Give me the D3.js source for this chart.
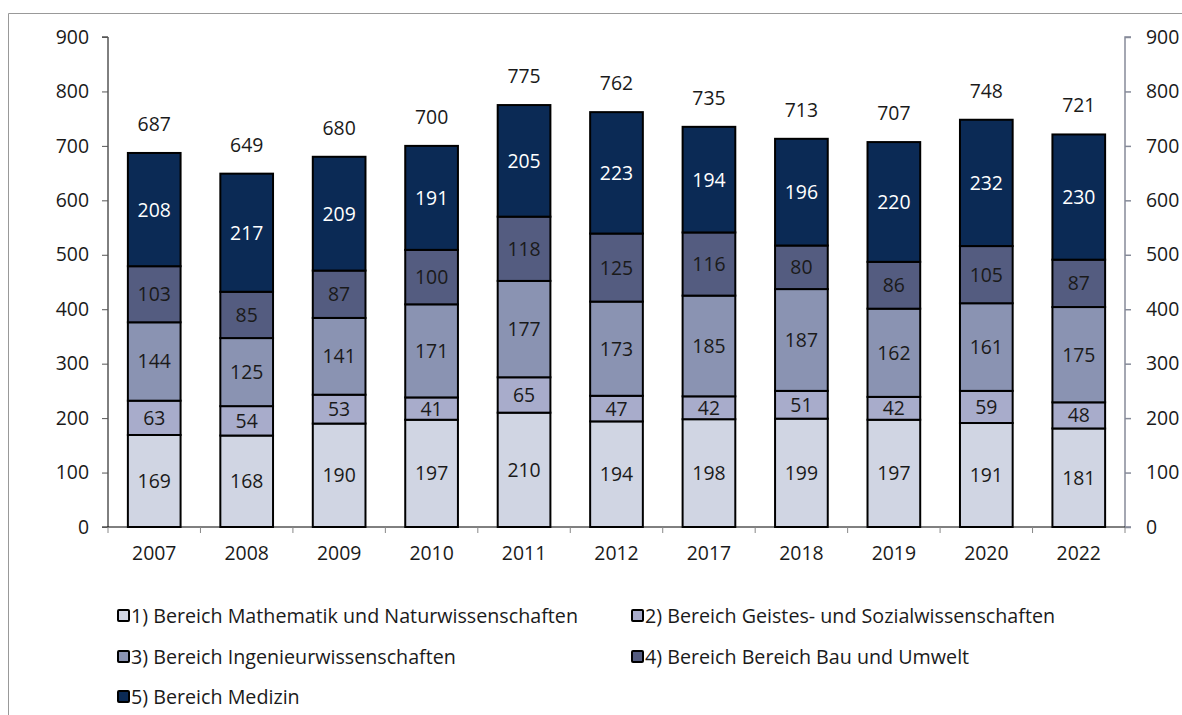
<!DOCTYPE html>
<html><head><meta charset="utf-8">
<script src="https://cdn.jsdelivr.net/npm/d3@7"></script>
<style>body{margin:0;background:#fff;font-family:"Open Sans",sans-serif;}</style>
</head><body>
<svg id="c" width="1182" height="715"></svg>
<script>
const categories = ["2007","2008","2009","2010","2011","2012","2017","2018","2019","2020","2022"];
const seriesNames = ["1) Bereich Mathematik und Naturwissenschaften","2) Bereich Geistes- und Sozialwissenschaften","3) Bereich Ingenieurwissenschaften","4) Bereich Bereich Bau und Umwelt","5) Bereich Medizin"];
const s1 = [169,168,190,197,210,194,198,199,197,191,181];
const s2 = [63,54,53,41,65,47,42,51,42,59,48];
const s3 = [144,125,141,171,177,173,185,187,162,161,175];
const s4 = [103,85,87,100,118,125,116,80,86,105,87];
const s5 = [208,217,209,191,205,223,194,196,220,232,230];
const totals = [687,649,680,700,775,762,735,713,707,748,721];
const yTicks = [0,100,200,300,400,500,600,700,800,900];
const colors = ["#d0d5e3","#a8accb","#8a93b2","#545c80","#0b2a55"];
const textColors = ["#1a1a1a","#1a1a1a","#1a1a1a","#1a1a1a","#ffffff"];

const FS = 19.4, LFS = 19.7;
const series = [s1,s2,s3,s4,s5];
const svg = d3.select("#c");
const L = 108, R = 1125, T = 37, B = 527;
const x = d3.scaleBand().domain(categories).range([L,R]).paddingInner(0.43).paddingOuter(0.215);
const xb = d3.scaleBand().domain(categories).range([L,R]);
const y = d3.scaleLinear().domain([0,900]).range([B,T]);

svg.append("line").attr("x1",8.5).attr("x2",1182).attr("y1",13.5).attr("y2",13.5).attr("stroke","#999").attr("stroke-width",1);
svg.append("line").attr("x1",8.5).attr("x2",8.5).attr("y1",13.5).attr("y2",715).attr("stroke","#999").attr("stroke-width",1);

const data = categories.map((c,i)=>{const o={cat:c}; series.forEach((s,k)=>o["s"+k]=s[i]); return o;});
const stack = d3.stack().keys(series.map((s,k)=>"s"+k))(data);

stack.forEach((layer,k)=>{
  svg.append("g").selectAll("rect").data(layer).join("rect")
    .attr("x",d=>x(d.data.cat)).attr("width",x.bandwidth())
    .attr("y",d=>y(d[1])).attr("height",d=>y(d[0])-y(d[1]))
    .attr("fill",colors[k]).attr("stroke","#000").attr("stroke-width",2);
});
stack.forEach((layer,k)=>{
  svg.append("g").selectAll("text").data(layer).join("text")
    .attr("x",d=>x(d.data.cat)+x.bandwidth()/2)
    .attr("y",d=>(y(d[0])+y(d[1]))/2)
    .attr("dy","0.36em").attr("text-anchor","middle")
    .attr("font-size",FS).attr("fill",textColors[k])
    .text(d=>d.data["s"+k]);
});
svg.append("g").selectAll("text").data(categories).join("text")
  .attr("x",c=>x(c)+x.bandwidth()/2)
  .attr("y",(c,i)=>y(totals[i])-29)
  .attr("dy","0.36em").attr("text-anchor","middle")
  .attr("font-size",FS).attr("fill","#1a1a1a")
  .text((c,i)=>totals[i]);

const ly = svg.append("g").attr("transform",`translate(${L},0)`)
  .call(d3.axisLeft(y).tickValues(yTicks).tickSize(6).tickPadding(13));
ly.select(".domain").attr("stroke","#000").attr("d",`M-6,${B}H0V${T}H-6`);
ly.selectAll(".tick line").attr("stroke","#555");
ly.selectAll("text").attr("font-size",FS).attr("font-family","Open Sans").attr("fill","#1a1a1a");

const ry = svg.append("g").attr("transform",`translate(${R},0)`)
  .call(d3.axisRight(y).tickValues(yTicks).tickSize(6).tickPadding(15));
ry.select(".domain").attr("stroke","#868b99").attr("stroke-width",1.5).attr("d",`M6,${T}H0V${B}H6`);
ry.selectAll(".tick line").attr("stroke","#868b99").attr("stroke-width",1.5);
ry.selectAll("text").attr("font-size",FS).attr("font-family","Open Sans").attr("fill","#1a1a1a");

const xa = svg.append("g").attr("transform",`translate(0,${B})`)
  .call(d3.axisBottom(xb).tickSize(0).tickPadding(19));
xa.select(".domain").attr("stroke","#000").attr("d",`M${L},0H${R}`);
xa.selectAll("text").attr("font-size",FS).attr("font-family","Open Sans").attr("fill","#1a1a1a");
svg.append("g").selectAll("line").data(categories).join("line")
  .attr("x1",(c,i)=>L+xb.step()*(i+1)).attr("x2",(c,i)=>L+xb.step()*(i+1))
  .attr("y1",B).attr("y2",B+6).attr("stroke","#888").attr("stroke-width",1);
svg.append("line").attr("x1",L).attr("x2",L).attr("y1",B).attr("y2",B+6).attr("stroke","#888");

const legPos = [[117,616],[631,616],[117,657],[631,657],[117,697]];
seriesNames.forEach((n,k)=>{
  const [lx,ly2]=legPos[k];
  svg.append("rect").attr("x",lx+1).attr("y",ly2-6).attr("width",11).attr("height",11)
    .attr("fill",colors[k]).attr("stroke","#000").attr("stroke-width",2).attr("rx",1);
  svg.append("text").attr("x",lx+14).attr("y",ly2).attr("dy","0.36em")
    .attr("font-size",LFS).attr("fill","#1a1a1a").text(n);
});
</script>
</body></html>
